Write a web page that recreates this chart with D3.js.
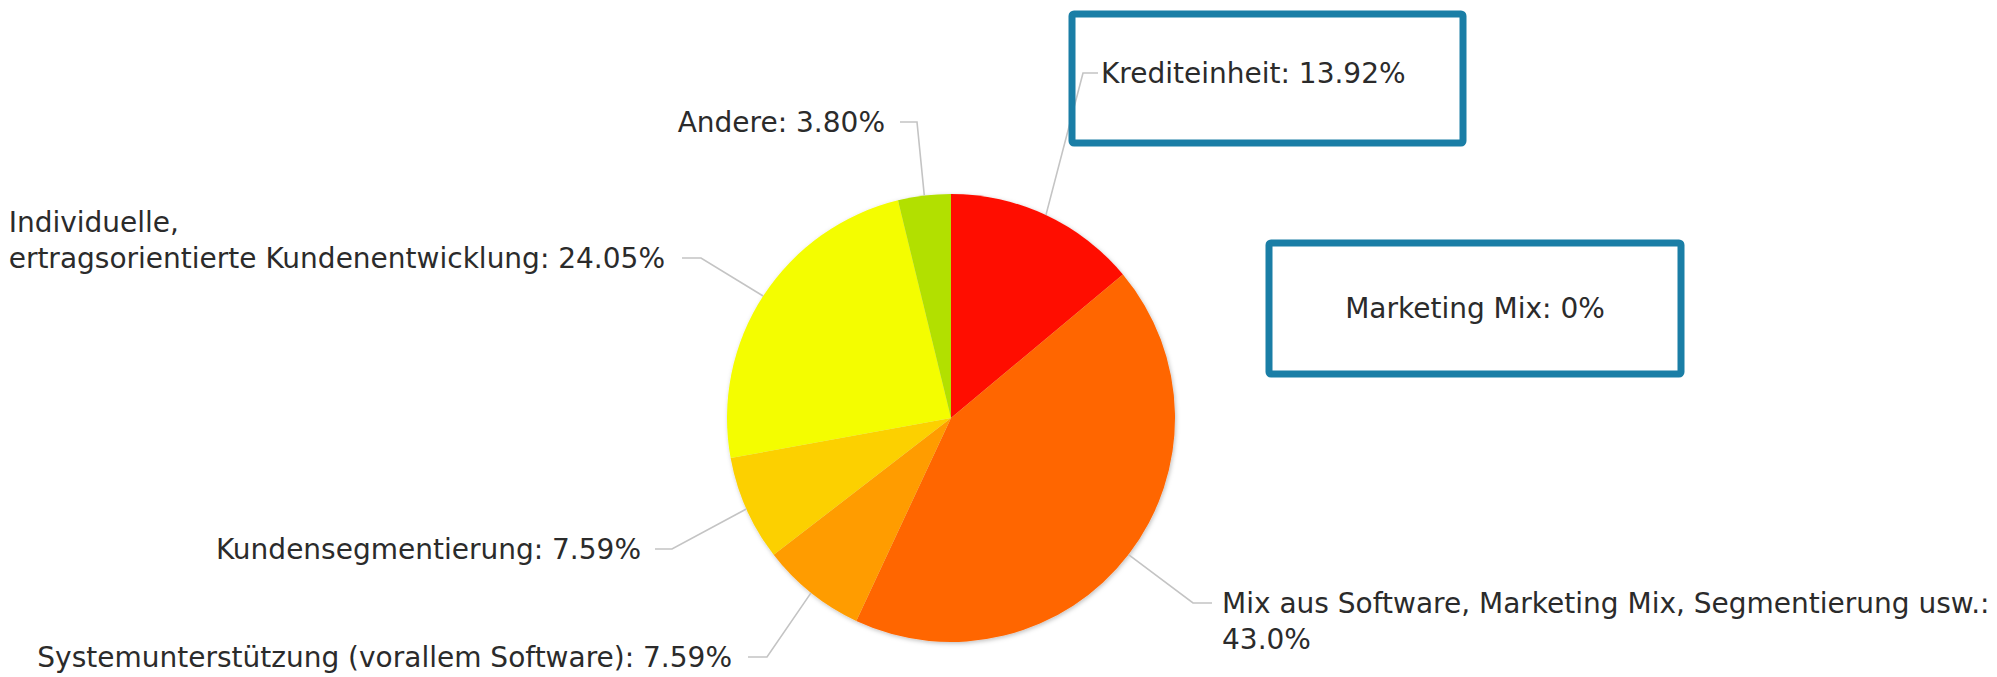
<!DOCTYPE html>
<html>
<head>
<meta charset="utf-8">
<script src="https://cdn.jsdelivr.net/npm/d3@7"></script>
<style>
  html, body { margin: 0; padding: 0; background: #fff; }
  svg text { font-family: Tahoma, "DejaVu Sans", sans-serif; fill: #2b2b2b; }
</style>
</head>
<body>
<div id="chart"></div>
<script>
// data
const categories = [
  "Krediteinheit",
  "Mix aus Software, Marketing Mix, Segmentierung usw.",
  "Systemunterstützung (vorallem Software)",
  "Kundensegmentierung",
  "Individuelle,\nertragsorientierte Kundenentwicklung",
  "Andere",
  "Marketing Mix"
];
const values = [13.92, 43.0, 7.59, 7.59, 24.05, 3.80, 0];
const valueLabels = ["13.92%", "43.0%", "7.59%", "7.59%", "24.05%", "3.80%", "0%"];
const colors = ["#ff1100", "#ff6600", "#ff9c00", "#fcd000", "#f4fd00", "#b2e000", "#cccccc"];

// layout of the labels (knee of the connector, side, gap to text)
const labelLayout = [
  { knee: [1083, 73], side: "right", run: 15, gap: 3 },
  { knee: [1193, 603], side: "right", run: 19, gap: 10, valueOnNewLine: true },
  { knee: [767, 657], side: "left", run: 19, gap: 16 },
  { knee: [672, 549], side: "left", run: 17, gap: 14 },
  { knee: [701, 258], side: "left", run: 19, gap: 17, blockLeft: true },
  { knee: [917, 122], side: "left", run: 17, gap: 15 },
  null
];
// highlight boxes (annotations)
const boxes = [
  { index: 0, x: 1072, y: 14, w: 391, h: 129 },
  { index: 6, x: 1269, y: 243, w: 412, h: 131, centered: true }
];

const W = 1997, H = 677;
const cx = 951, cy = 418, radius = 224;
const fontSize = 28, lineHeight = 36;

const svg = d3.select("#chart")
  .append("svg")
    .attr("width", W)
    .attr("height", H);

const defs = svg.append("defs");
const shadow = defs.append("filter").attr("id", "shadow")
  .attr("x", "-10%").attr("y", "-10%").attr("width", "120%").attr("height", "120%");
shadow.append("feDropShadow")
  .attr("dx", 1).attr("dy", 1.5).attr("stdDeviation", 2)
  .attr("flood-color", "#000").attr("flood-opacity", 0.25);

const pieData = d3.pie().sort(null).value(d => d.value)(
  categories.map((c, i) => ({ name: c, value: values[i], label: valueLabels[i], color: colors[i], i: i }))
);

const arc = d3.arc().innerRadius(0).outerRadius(radius);
const edgeArc = d3.arc().innerRadius(radius).outerRadius(radius);

const g = svg.append("g").attr("transform", `translate(${cx},${cy})`);

g.append("g").attr("filter", "url(#shadow)")
  .selectAll("path")
  .data(pieData.filter(d => d.value > 0))
  .enter()
  .append("path")
    .attr("d", arc)
    .attr("fill", d => d.data.color);

// connectors + labels
const labels = svg.append("g");
pieData.forEach(d => {
  const lay = labelLayout[d.data.i];
  if (!lay) return;
  const e = edgeArc.centroid(d);
  const edge = [cx + e[0], cy + e[1]];
  const dir = lay.side === "right" ? 1 : -1;
  const hEnd = [lay.knee[0] + dir * lay.run, lay.knee[1]];

  labels.append("path")
    .attr("d", d3.line()([edge, lay.knee, hEnd]))
    .attr("fill", "none")
    .attr("stroke", "#c4c4c4")
    .attr("stroke-width", 1.6);

  let lines = d.data.name.split("\n");
  if (lay.valueOnNewLine) {
    lines[lines.length - 1] += ":";
    lines.push(d.data.label);
  } else {
    lines[lines.length - 1] += ": " + d.data.label;
  }

  const tx = hEnd[0] + dir * lay.gap;
  // the first line sits on the knee for right labels, the last one for left labels
  const y0 = lay.side === "right" ? hEnd[1] : hEnd[1] - (lines.length - 1) * lineHeight;

  const t = labels.append("text")
    .attr("font-size", fontSize)
    .attr("text-anchor", lay.blockLeft || lay.side === "right" ? "start" : "end")
    .attr("x", tx)
    .attr("y", y0);
  lines.forEach((ln, k) => {
    t.append("tspan")
      .attr("x", tx)
      .attr("y", y0 + k * lineHeight)
      .attr("dy", "0.35em")
      .text(ln);
  });
  if (lay.blockLeft) {
    // left-aligned block whose right edge ends at tx
    const bb = t.node().getBBox();
    const shift = tx - (bb.x + bb.width);
    t.attr("transform", `translate(${shift},0)`);
  }
});

// annotation boxes
boxes.forEach(b => {
  svg.append("rect")
    .attr("x", b.x).attr("y", b.y)
    .attr("width", b.w).attr("height", b.h)
    .attr("rx", 2)
    .attr("fill", b.centered ? "#fff" : "none")
    .attr("stroke", "#1a7ea6")
    .attr("stroke-width", 7);
  if (b.centered) {
    svg.append("text")
      .attr("x", b.x + b.w / 2)
      .attr("y", b.y + b.h / 2)
      .attr("dy", "0.35em")
      .attr("text-anchor", "middle")
      .attr("font-size", fontSize)
      .text(categories[b.index] + ": " + valueLabels[b.index]);
  }
});
</script>
</body>
</html>
